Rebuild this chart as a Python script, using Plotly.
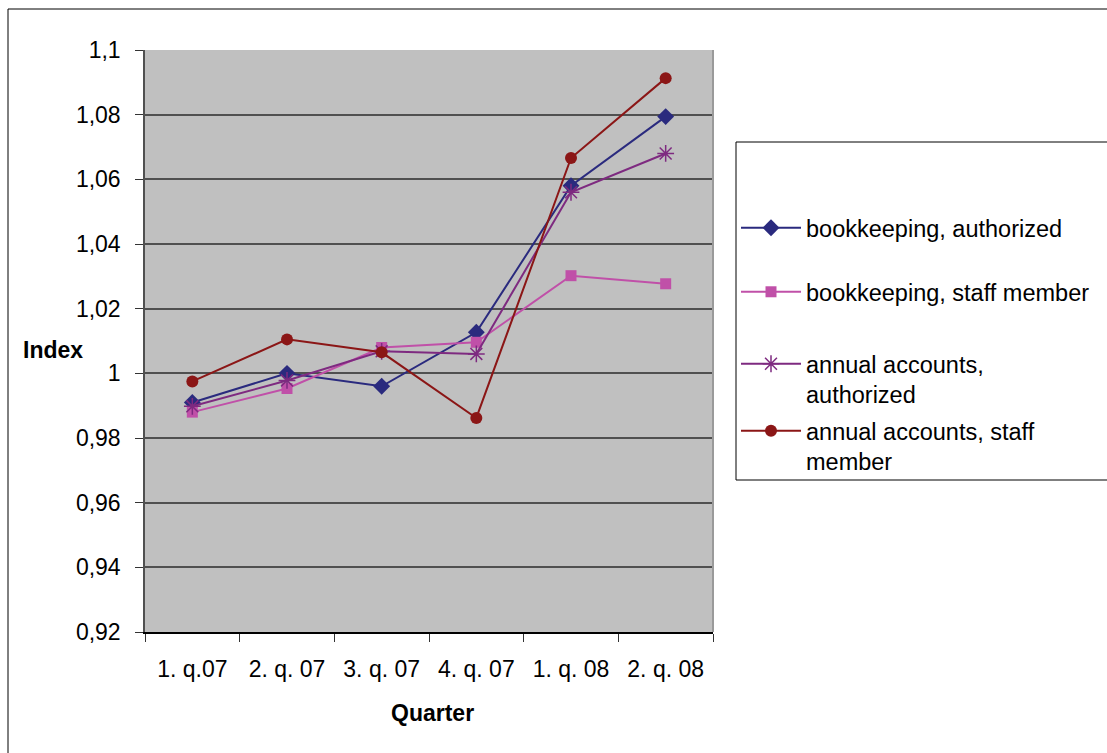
import plotly.graph_objects as go

quarters = ["1. q.07", "2. q. 07", "3. q. 07", "4. q. 07", "1. q. 08", "2. q. 08"]

bookkeeping_authorized = [0.991, 1.000, 0.996, 1.0127, 1.058, 1.0794]
bookkeeping_staff = [0.988, 0.9953, 1.008, 1.0096, 1.0302, 1.0277]
annual_authorized = [0.9898, 0.9978, 1.0068, 1.006, 1.056, 1.068]
annual_staff = [0.9975, 1.0105, 1.0065, 0.9862, 1.0666, 1.0913]

y_ticks = [0.92, 0.94, 0.96, 0.98, 1.0, 1.02, 1.04, 1.06, 1.08, 1.1]

FONT = "Liberation Sans, Arial, sans-serif"
W, H = 1107, 753
L, R, T, B = 145, 394, 50, 121


def px_x(p):
    return (p - L) / (W - L - R)


def px_y(q):
    return (H - B - q) / (H - T - B)


series = [
    ("bookkeeping, authorized", bookkeeping_authorized, "#2a2a7e",
     dict(symbol="diamond", size=13)),
    ("bookkeeping, staff member", bookkeeping_staff, "#c050a8",
     dict(symbol="square", size=11)),
    ("annual accounts,<br>authorized", annual_authorized, "#7e2a80",
     dict(symbol="asterisk-open", size=14, line=dict(width=1.5, color="#7e2a80"))),
    ("annual accounts, staff<br>member", annual_staff, "#8b1616",
     dict(symbol="circle", size=12)),
]

# vertical position (px) of the first text line of each legend entry
legend_rows = [228, 292, 364, 431]

fig = go.Figure()
legend_layout = {}
for i, (name, vals, color, marker) in enumerate(series):
    key = "legend" if i == 0 else f"legend{i + 1}"
    fig.add_trace(go.Scatter(
        x=quarters, y=vals, name=name, mode="lines+markers",
        line=dict(color=color, width=2),
        marker=dict(color=color, **marker),
        legend=key,
    ))
    legend_layout[key] = dict(
        x=px_x(736), y=px_y(legend_rows[i] - 22), xanchor="left", yanchor="top",
        bgcolor="rgba(0,0,0,0)", borderwidth=0,
        font=dict(size=23.5, family=FONT, color="black"),
        valign="top", itemwidth=60,
    )

fig.update_layout(
    width=W, height=H,
    margin=dict(l=L, r=R, t=T, b=B),
    paper_bgcolor="white",
    plot_bgcolor="#c0c0c0",
    separators=", ",
    font=dict(family=FONT, size=23, color="black"),
    showlegend=True,
    xaxis=dict(
        range=[-0.5, 5.5],
        showgrid=False, showline=True, linecolor="black", linewidth=1.5,
        ticks="outside", ticklen=8, tickcolor="#333", tickson="boundaries",
        tickfont=dict(size=23), ticklabelstandoff=16,
        zeroline=False, fixedrange=True,
    ),
    yaxis=dict(
        range=[0.92, 1.1], tickvals=y_ticks,
        showgrid=True, gridcolor="#505050", gridwidth=1.5,
        showline=True, linecolor="#505050", linewidth=1.5,
        ticks="outside", ticklen=8, tickcolor="#333",
        tickfont=dict(size=23), ticklabelstandoff=10,
        zeroline=False, fixedrange=True,
    ),
    shapes=[
        # outer chart border
        dict(type="rect", xref="paper", yref="paper",
             x0=px_x(8), x1=px_x(1120), y0=px_y(770), y1=px_y(9),
             line=dict(color="black", width=1), fillcolor="rgba(0,0,0,0)", layer="below"),
        # right edge of plot area
        dict(type="line", xref="paper", yref="paper", x0=1, x1=1, y0=0, y1=1,
             line=dict(color="#9a9a9a", width=2)),
        # legend frame
        dict(type="rect", xref="paper", yref="paper",
             x0=px_x(736), x1=px_x(1120), y0=px_y(480), y1=px_y(142),
             line=dict(color="black", width=1), fillcolor="rgba(0,0,0,0)"),
    ],
    annotations=[
        dict(text="<b>Index</b>", xref="paper", yref="paper",
             x=px_x(53), y=px_y(350), xanchor="center", yanchor="middle",
             showarrow=False, font=dict(size=23, family=FONT)),
        dict(text="<b>Quarter</b>", xref="paper", yref="paper",
             x=px_x(432), y=px_y(713), xanchor="center", yanchor="middle",
             showarrow=False, font=dict(size=23, family=FONT)),
    ],
    **legend_layout,
)

fig.write_html("out.html")
